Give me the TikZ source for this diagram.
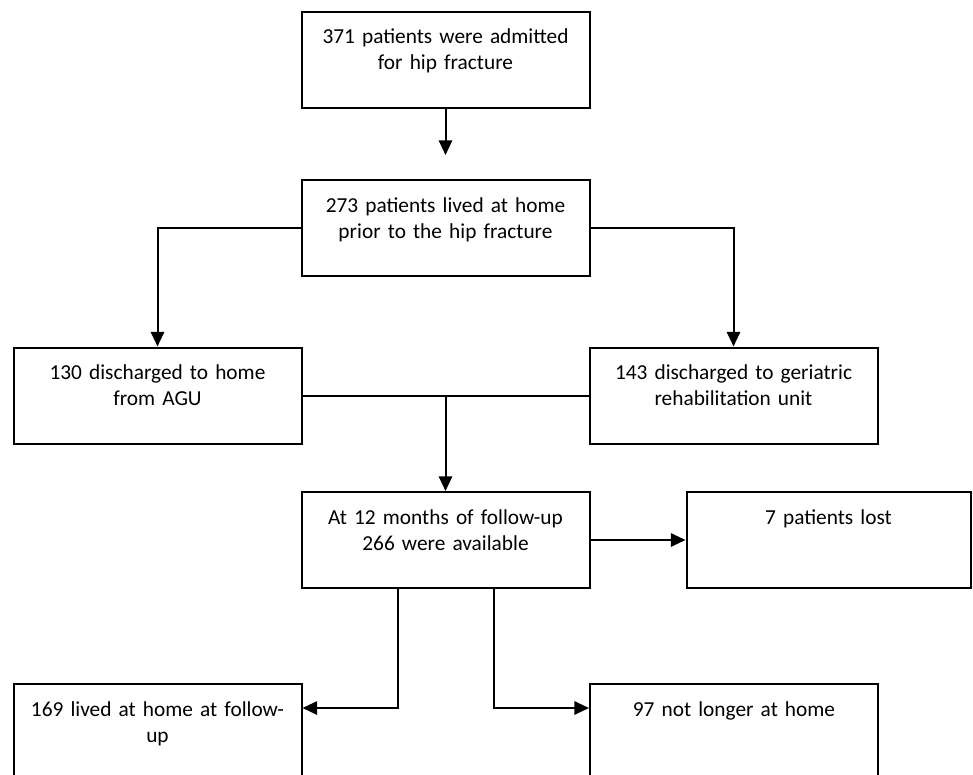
\documentclass[tikz,border=0pt]{standalone}
\usepackage{fontspec}
\setmainfont{Carlito}
\usetikzlibrary{arrows.meta,positioning,calc}

\begin{document}
\begin{tikzpicture}[x=0.75pt, y=-0.75pt,
  flowbox/.style={draw, line width=1.5pt, minimum width=216pt, inner sep=0pt,
    text width=210pt, align=center, text height=24pt, text depth=48pt,
    font=\fontsize{16}{19.5}\selectfont},
  arr/.style={-{Triangle[length=11pt, width=10pt]}, line width=1.5pt}]

\useasboundingbox (0,0) rectangle (973,774);

% Admission
\node[flowbox] (admit) at (445.5,60) {371 patients were admitted\\for hip fracture};

% Lived at home
\node[flowbox] (home) at (445.5,228) {273 patients lived at home\\prior to the hip fracture};

% Discharge
\node[flowbox] (agu) at (157.5,395.5) {130 discharged to home\\from AGU};
\node[flowbox] (geri) at (733.5,395.5) {143 discharged to geriatric\\rehabilitation unit};

% Follow-up
\node[flowbox] (avail) at (445.5,540) {At 12 months of follow-up\\266 were available};
\node[flowbox, minimum width=213pt, text width=207pt] (lost) at (828.5,540) {7 patients lost};

% Outcome
\node[flowbox] (lived) at (157.5,732) {169 lived at home at follow-\\up};
\node[flowbox] (gone) at (734,732) {97 not longer at home};

% Arrows
\draw[arr, shorten >=18pt] (admit.south) -- (home.north);
\draw[arr] (home.west) -| (agu.north);
\draw[arr] (home.east) -| (geri.north);
\draw[line width=1.5pt] (agu.east) -- (geri.west);
\draw[arr] (avail.north |- agu.east) -- (avail.north);
\draw[arr] (avail.east) -- (lost.west);
\draw[arr] ([xshift=-36pt]avail.south) |- ([yshift=18pt]lived.east);
\draw[arr] ([xshift=36pt]avail.south) |- ([yshift=18pt]gone.west);

\end{tikzpicture}
\end{document}
